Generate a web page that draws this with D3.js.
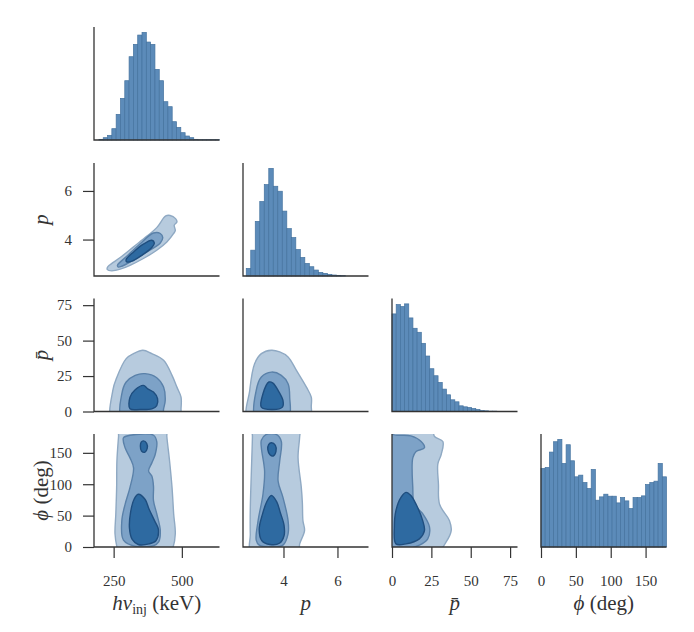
<!DOCTYPE html>
<html>
<head>
<meta charset="utf-8">
<script src="https://cdn.jsdelivr.net/npm/d3@7"></script>
<style>
body{margin:0;background:#fff;}
text{font-family:"Liberation Serif","DejaVu Serif",serif;fill:#333;}
</style>
</head>
<body>
<script>
// histogram counts (diagonal)
var hnuBinStart = 196, hnuBinWidth = 15.8;
var hnuCounts = [2,7,14,34,77,125,178,250,287,315,323,294,287,212,178,115,100,55,38,22,12,7,2,1,1,1,1,1];
var pBinStart = 2.62, pBinWidth = 0.167;
var pCounts = [23,78,165,225,276,325,271,256,196,143,116,80,56,38,28,18,11,8,5,3,2,1];
var pbarBinStart = 0, pbarBinWidth = 2.66;
var pbarCounts = [292,320,314,322,280,249,237,204,166,128,107,87,67,50,35,29,17,14,12,9,6,3,2,1,1];
var phiBinStart = 0, phiBinWidth = 6;
var phiCounts = [235,238,284,315,322,250,306,258,210,215,193,175,232,140,150,158,152,152,132,148,138,115,148,148,153,187,193,197,250,210];

// axis ranges and ticks
var domains = [[178,638],[2.5,7.15],[0,79.7],[0,180]];
var ticks = [[250,500],[4,6],[0,25,50,75],[0,50,100,150]];

// density contours [x, y] in data units, outer / middle / inner level
var hnuP_outer = [[227,2.85],[234,2.94],[274,3.26],[323,3.70],[372,4.14],[408,4.49],[441,4.97],[457,4.99],[477,4.86],[482,4.73],[472,4.59],[476,4.38],[470,4.25],[445,3.90],[408,3.56],[359,3.22],[310,2.94],[274,2.78],[243,2.71],[227,2.76]];
var hnuP_mid = [[264,2.94],[298,3.31],[347,3.83],[396,4.27],[421,4.25],[430,4.08],[421,3.86],[372,3.49],[323,3.15],[280,2.90],[267,2.87]];
var hnuP_inner = [[296,3.18],[323,3.49],[359,3.81],[390,3.97],[399,3.86],[390,3.67],[353,3.35],[317,3.11],[298,3.08]];

var hnuPbar_outer = [[247,-8],[247,14.9],[261,23.8],[296,37.3],[323,40.8],[357,43.2],[390,40.8],[433,36.1],[464,25.5],[482,17.2],[497,10.1],[497,2],[492,-8]];
var hnuPbar_mid = [[280,-5],[280,12.5],[296,20.8],[329,25.5],[365,26.7],[408,23.8],[433,17.2],[439,7.8],[433,1.9],[427,-5]];
var hnuPbar_inner = [[310,1.9],[310,10.1],[329,15.3],[359,18.4],[375,16.0],[396,13.7],[411,9.0],[408,4.2],[390,1.9],[347,1.4]];

var pPbar_outer = [[2.69,-5],[2.75,14.9],[2.93,33.7],[3.18,40.8],[3.55,43.2],[3.86,42.0],[4.17,38.5],[4.48,29.0],[4.85,17.2],[5.03,10.1],[5.03,4.2],[4.97,-5]];
var pPbar_mid = [[2.97,-5],[2.99,14.9],[3.18,24.3],[3.55,27.8],[3.92,25.5],[4.17,19.6],[4.23,10.1],[4.17,-5]];
var pPbar_inner = [[3.18,3.1],[3.24,12.5],[3.46,20.8],[3.61,20.0],[3.80,14.9],[3.98,7.8],[3.96,3.1],[3.61,1.4]];

var hnuPhi_outer = [[271,192],[268,176],[262,137],[261,95],[258,53],[255,21],[262,0],[270,-10],[455,-10],[468,0],[476,21],[470,53],[464,95],[455,137],[445,176],[443,192]];
var hnuPhi_mid = [[286,174],[310,178],[396,178],[408,168],[402,147],[390,134],[378,121],[390,113],[396,97],[396,74],[408,53],[421,26],[415,8],[396,2],[330,1],[286,11],[280,42],[292,68],[310,95],[323,126],[310,142],[292,158]];
var hnuPhi_innerTop = [[359,169],[371,165],[373,157],[365,151],[352,153],[348,161],[351,167]];
var hnuPhi_innerLow = [[340,84],[365,76],[380,60],[402,40],[414,28],[405,10],[380,5],[340,4],[318,12],[308,30],[312,55],[325,76]];

var pPhi_outer = [[2.85,192],[2.85,176],[2.81,120],[2.77,60],[2.77,20],[2.80,-10],[4.54,-10],[4.60,5],[4.78,26],[4.72,42],[4.70,70],[4.66,95],[4.54,142],[4.60,176],[4.60,192]];
var pPhi_mid = [[3.18,170],[3.35,179],[3.75,179],[3.92,168],[3.86,137],[3.80,105],[3.98,79],[4.17,42],[4.17,21],[3.98,3],[3.55,0],[3.10,3],[2.99,11],[3.06,42],[3.24,84],[3.30,121],[3.18,158]];
var pPhi_innerTop = [[3.55,166],[3.70,162],[3.72,152],[3.62,145],[3.50,147],[3.42,155],[3.45,163]];
var pPhi_innerLow = [[3.55,82],[3.75,72],[3.88,55],[4.02,35],[4.02,18],[3.85,6],[3.50,4],[3.20,10],[3.10,28],[3.22,52],[3.38,72]];

var pbarPhi_outer = [[-10,192],[25,192],[27,176],[32.3,168],[31.2,147],[29.1,132],[29.5,100],[30.2,68],[36.5,42],[37.6,26],[34.4,8],[28,-10],[-10,-10]];
var pbarPhi_mid = [[-10,180],[3,178],[12,177],[18.5,168],[20.6,158],[15.3,152],[13.2,142],[13.2,95],[14.2,68],[19.5,53],[23.8,32],[22.7,13],[17.4,3],[5,-5],[-10,-5]];
var pbarPhi_inner = [[8.9,87],[12,82],[15.3,68],[19.5,42],[20.6,26],[17.4,13],[8.9,5],[2.5,5],[1.5,32],[2.5,58],[5.7,79]];

var cols = [94, 243, 392, 541], cellW = 125.5;
var rows = [27, 163, 298.5, 434], cellH = 113;
var levelFill = ["#b7cbde", "#7da2c7", "#2e6aa1"];
var levelStroke = ["#8fa9c3", "#5a81a9", "#1f4e7f"];

var svg = d3.select("body").append("svg").attr("width", 694).attr("height", 632);

var xScale = domains.map(function(d, i){
  return d3.scaleLinear().domain(d).range([cols[i], cols[i] + cellW]);
});
var yScale = domains.map(function(d, i){
  return d3.scaleLinear().domain(d).range([rows[i] + cellH, rows[i]]);
});

// diagonal histograms
var hists = [
  {start: hnuBinStart, w: hnuBinWidth, counts: hnuCounts},
  {start: pBinStart, w: pBinWidth, counts: pCounts},
  {start: pbarBinStart, w: pbarBinWidth, counts: pbarCounts},
  {start: phiBinStart, w: phiBinWidth, counts: phiCounts}
];
hists.forEach(function(h, i){
  var x = xScale[i];
  var y = d3.scaleLinear().domain([0, d3.max(h.counts) * 1.05]).range([rows[i] + cellH, rows[i]]);
  svg.append("g").selectAll("rect")
    .data(h.counts)
    .enter()
    .append("rect")
    .attr("x", function(d, k){ return x(h.start + k * h.w); })
    .attr("width", function(d, k){ return x(h.start + (k + 1) * h.w) - x(h.start + k * h.w); })
    .attr("y", function(d){ return y(d); })
    .attr("height", function(d){ return y(0) - y(d); })
    .attr("fill", "#5c8bb9")
    .attr("stroke", "#45739f")
    .attr("stroke-width", 0.7);
});

// lower triangle contours
var panels = [
  {r: 1, c: 0, levels: [[hnuP_outer], [hnuP_mid], [hnuP_inner]]},
  {r: 2, c: 0, levels: [[hnuPbar_outer], [hnuPbar_mid], [hnuPbar_inner]]},
  {r: 2, c: 1, levels: [[pPbar_outer], [pPbar_mid], [pPbar_inner]]},
  {r: 3, c: 0, levels: [[hnuPhi_outer], [hnuPhi_mid], [hnuPhi_innerTop, hnuPhi_innerLow]]},
  {r: 3, c: 1, levels: [[pPhi_outer], [pPhi_mid], [pPhi_innerTop, pPhi_innerLow]]},
  {r: 3, c: 2, levels: [[pbarPhi_outer], [pbarPhi_mid], [pbarPhi_inner]]}
];
panels.forEach(function(pn){
  var xs = xScale[pn.c], ys = yScale[pn.r];
  var id = "clip" + pn.r + pn.c;
  svg.append("clipPath").attr("id", id)
    .append("rect")
    .attr("x", cols[pn.c]).attr("y", rows[pn.r])
    .attr("width", cellW).attr("height", cellH);
  var g = svg.append("g").attr("clip-path", "url(#" + id + ")");
  var line = d3.line()
    .x(function(d){ return xs(d[0]); })
    .y(function(d){ return ys(d[1]); })
    .curve(d3.curveCatmullRomClosed.alpha(0.5));
  pn.levels.forEach(function(polys, li){
    polys.forEach(function(poly){
      g.append("path")
        .attr("d", line(poly))
        .attr("fill", levelFill[li])
        .attr("stroke", levelStroke[li])
        .attr("stroke-width", 1.4);
    });
  });
});

// spines
for (var r = 0; r < 4; r++) {
  for (var c = 0; c <= r; c++) {
    svg.append("path")
      .attr("d", "M" + cols[c] + "," + rows[r] + "V" + (rows[r] + cellH) + "H" + (cols[c] + cellW))
      .attr("fill", "none")
      .attr("stroke", "#333")
      .attr("stroke-width", 1.3);
  }
}

// tick axes
var fmt = d3.format("~g");
for (var r = 1; r < 4; r++) {
  var ay = svg.append("g")
    .attr("transform", "translate(" + cols[0] + ",0)")
    .call(d3.axisLeft(yScale[r]).tickValues(ticks[r]).tickFormat(fmt).tickSize(11).tickPadding(11).tickSizeOuter(0));
  ay.select(".domain").remove();
}
for (var c = 0; c < 4; c++) {
  var ax = svg.append("g")
    .attr("transform", "translate(0," + (rows[3] + cellH) + ")")
    .call(d3.axisBottom(xScale[c]).tickValues(ticks[c]).tickFormat(fmt).tickSize(11).tickPadding(17).tickSizeOuter(0));
  ax.select(".domain").remove();
}
svg.selectAll(".tick line").attr("stroke", "#333").attr("stroke-width", 1.2);
svg.selectAll(".tick text")
  .attr("font-size", 15)
  .attr("fill", "#333");

// axis labels
var labY = 610, labSize = 21;
var t0 = svg.append("text").attr("x", cols[0] + cellW / 2).attr("y", labY)
  .attr("text-anchor", "middle").attr("font-size", labSize);
t0.append("tspan").attr("font-style", "italic").text("hν");
t0.append("tspan").attr("font-size", 14).attr("dy", 4).text("inj");
t0.append("tspan").attr("dy", -4).text(" (keV)");

svg.append("text").attr("x", cols[1] + cellW / 2).attr("y", labY)
  .attr("text-anchor", "middle").attr("font-size", labSize).attr("font-style", "italic").text("p");
svg.append("text").attr("x", cols[2] + cellW / 2).attr("y", labY)
  .attr("text-anchor", "middle").attr("font-size", labSize).attr("font-style", "italic").text("p\u0304");
var t3 = svg.append("text").attr("x", cols[3] + cellW / 2).attr("y", labY)
  .attr("text-anchor", "middle").attr("font-size", labSize);
t3.append("tspan").attr("font-style", "italic").text("\u03d5");
t3.append("tspan").text(" (deg)");

var yl = [null, "p", "p\u0304", null];
for (var r = 1; r < 4; r++) {
  var t = svg.append("text")
    .attr("transform", "translate(48," + (rows[r] + cellH / 2) + ") rotate(-90)")
    .attr("text-anchor", "middle").attr("font-size", labSize);
  if (r < 3) {
    t.attr("font-style", "italic").text(yl[r]);
  } else {
    t.append("tspan").attr("font-style", "italic").text("\u03d5");
    t.append("tspan").text(" (deg)");
  }
}
</script>
</body>
</html>
